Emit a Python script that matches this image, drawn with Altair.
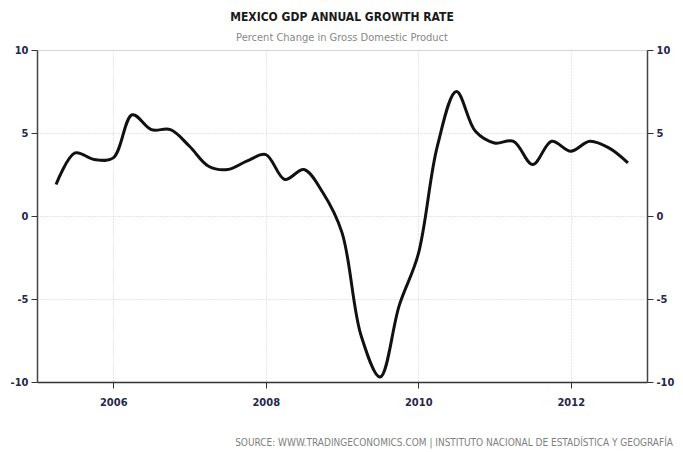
import altair as alt
import pandas as pd

quarters = [2005.25 + 0.25 * i for i in range(31)]
growth = [1.9, 3.8, 3.4, 3.5, 6.1, 5.2, 5.2, 4.2, 3.0, 2.8, 3.3, 3.7,
          2.2, 2.8, 1.4, -1.0, -7.2, -9.7, -5.4, -2.3, 4.2, 7.5, 5.1, 4.4,
          4.5, 3.1, 4.5, 3.9, 4.5, 4.1, 3.2]
x_ticks = [2006, 2008, 2010, 2012]
y_ticks = [-10, -5, 0, 5, 10]

df = pd.DataFrame({"t": quarters, "v": growth})

FONT = "DejaVu Sans Condensed, DejaVu Sans, sans-serif"
LABEL = "#26264a"

x = alt.X("t:Q", scale=alt.Scale(domain=[2005, 2013], nice=False, zero=False),
          axis=alt.Axis(values=x_ticks, format="d", title=None, grid=True,
                        gridColor="#cccccc", gridDash=[1, 2], tickSize=6,
                        tickColor="#333", domainColor="#333", domainWidth=1.5,
                        labelFont=FONT, labelFontSize=11, labelFontWeight="bold",
                        labelColor=LABEL, labelPadding=8))

yscale = alt.Scale(domain=[-10, 10], nice=False)

line = alt.Chart(df).mark_line(color="#111", strokeWidth=3,
                                interpolate="catmull-rom").encode(
    x=x,
    y=alt.Y("v:Q", scale=yscale,
            axis=alt.Axis(values=y_ticks, title=None, grid=True,
                          labelExpr="'' + datum.value",
                          gridColor="#cccccc", gridDash=[1, 2], tickSize=6,
                          tickColor="#333", domainColor="#444", domainWidth=1.5,
                          labelFont=FONT, labelFontSize=11, labelFontWeight="bold",
                          labelColor=LABEL, labelPadding=3, orient="left"))
)

right = alt.Chart(df).mark_line(opacity=0).encode(
    x=x,
    y=alt.Y("v:Q", scale=yscale,
            axis=alt.Axis(values=y_ticks, title=None, grid=False, tickSize=6,
                          labelExpr="'' + datum.value",
                          tickColor="#333", domainColor="#444", domainWidth=1.5,
                          labelFont=FONT, labelFontSize=11, labelFontWeight="bold",
                          labelColor=LABEL, labelPadding=3, orient="right"))
)

source = alt.Chart(pd.DataFrame({"s": ["SOURCE:  WWW.TRADINGECONOMICS.COM  |  INSTITUTO NACIONAL DE ESTADÍSTICA Y GEOGRAFÍA"]})).mark_text(
    align="right", baseline="middle", font=FONT, fontSize=10, color="#808080"
).encode(x=alt.value(636), y=alt.value(393), text="s:N")

chart = alt.layer(line, right, source).resolve_axis(y="independent").properties(
    width=610, height=332,
    autosize=alt.AutoSizeParams(type="none"),
    padding={"left": 37, "top": 50, "right": 36, "bottom": 70},
    title=alt.TitleParams(
        text="MEXICO GDP ANNUAL GROWTH RATE",
        subtitle="Percent Change in Gross Domestic Product",
        anchor="middle", font=FONT, fontSize=12, fontWeight="bold",
        color="#1a1a1a", subtitleFont=FONT, subtitleFontSize=11,
        subtitleColor="#888", subtitlePadding=8, offset=0),
).configure_view(stroke=None).configure(background="white")

chart.save("out.html", embed_options={"renderer": "svg", "actions": False})
